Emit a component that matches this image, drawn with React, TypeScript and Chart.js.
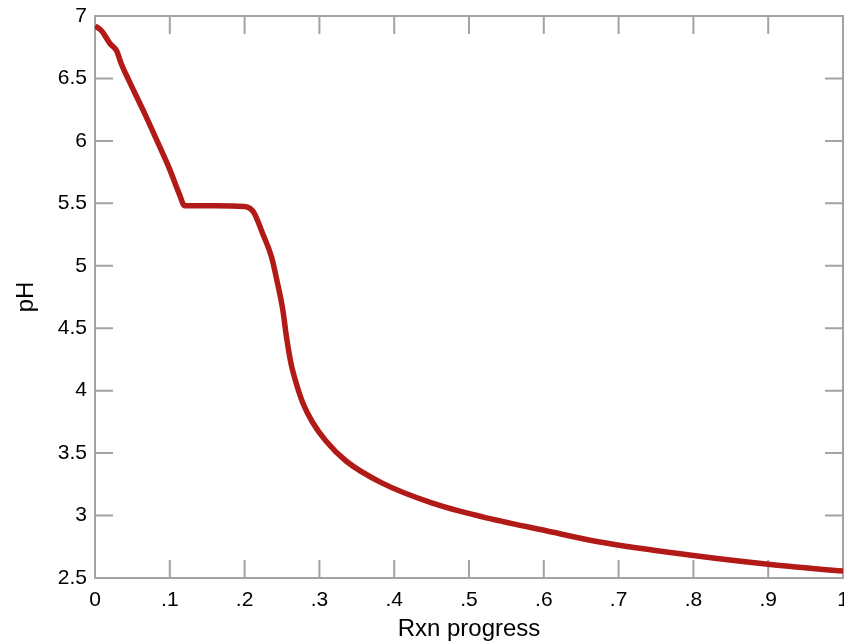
import React, { useEffect, useRef } from "react";
import { Chart, registerables } from "chart.js";

Chart.register(...registerables);

// Reaction progress (x) and pH (y)
const progress = [
  0, 0.009, 0.02, 0.029, 0.035, 0.044, 0.064, 0.083, 0.1, 0.113, 0.12,
  0.16, 0.2, 0.207, 0.213, 0.224, 0.236, 0.244, 0.251, 0.256, 0.262, 0.269,
  0.278, 0.291, 0.309, 0.336, 0.384, 0.451, 0.518, 0.602, 0.673, 0.8, 0.9, 1.0,
];
const pH = [
  6.92, 6.88, 6.78, 6.72, 6.62, 6.5, 6.25, 6.0, 5.77, 5.57, 5.48,
  5.48, 5.475, 5.46, 5.42, 5.26, 5.07, 4.86, 4.65, 4.43, 4.22, 4.06,
  3.9, 3.745, 3.595, 3.435, 3.26, 3.1, 2.99, 2.88, 2.79, 2.68, 2.61, 2.555,
];

const xTitle = "Rxn progress";
const yTitle = "pH";
const xMin = 0, xMax = 1, xStep = 0.1;
const yMin = 2.5, yMax = 7, yStep = 0.5;

const FONT = "'Liberation Sans', Arial, Helvetica, sans-serif";
const FRAME = "#a3a3a3";
const TICK_LEN = 18;

const framePlugin = {
  id: "frameTicks",
  beforeDatasetsDraw(chart: any) {
    const { ctx, chartArea: a, scales } = chart;
    const xs = scales.x, ys = scales.y;
    ctx.save();
    ctx.strokeStyle = FRAME;
    ctx.lineWidth = 2;
    ctx.beginPath();
    xs.ticks.forEach((t: any) => {
      const px = xs.getPixelForValue(t.value);
      ctx.moveTo(px, a.bottom);
      ctx.lineTo(px, a.bottom - TICK_LEN);
      ctx.moveTo(px, a.top);
      ctx.lineTo(px, a.top + TICK_LEN);
    });
    ys.ticks.forEach((t: any) => {
      const py = ys.getPixelForValue(t.value);
      ctx.moveTo(a.left, py);
      ctx.lineTo(a.left + TICK_LEN, py);
      ctx.moveTo(a.right, py);
      ctx.lineTo(a.right - TICK_LEN, py);
    });
    ctx.stroke();
    ctx.strokeRect(a.left, a.top, a.right - a.left, a.bottom - a.top);
    ctx.restore();
  },
};

export default function App() {
  const ref = useRef<HTMLCanvasElement | null>(null);

  useEffect(() => {
    if (!ref.current) return;
    const data = progress.map((x, i) => ({ x, y: pH[i] }));
    const chart = new Chart(ref.current, {
      type: "line",
      data: {
        datasets: [
          {
            data,
            borderColor: "#b21a17",
            borderWidth: 5.5,
            pointRadius: 0,
            fill: false,
            cubicInterpolationMode: "monotone",
          },
        ],
      },
      options: {
        animation: false,
        responsive: false,
        layout: { padding: { top: 16, right: 1, left: 0, bottom: 0 } },
        plugins: { legend: { display: false }, tooltip: { enabled: false } },
        scales: {
          x: {
            type: "linear",
            min: xMin,
            max: xMax,
            grid: { display: false, drawTicks: false },
            border: { display: false },
            afterFit: (s: any) => {
              s.height = 66;
              s.paddingLeft = 0;
              s.paddingRight = 0;
            },
            ticks: {
              stepSize: xStep,
              padding: 10,
              color: "#000",
              font: { family: FONT, size: 21 },
              maxRotation: 0,
              autoSkip: false,
              callback: (v: any) => {
                const n = Math.round(Number(v) * 10);
                if (n === 0) return "0";
                if (n === 10) return "1";
                return "." + n;
              },
            },
            title: {
              display: true,
              text: xTitle,
              color: "#000",
              font: { family: FONT, size: 24 },
              padding: { top: 0, bottom: 0 },
            },
          },
          y: {
            type: "linear",
            min: yMin,
            max: yMax,
            grid: { display: false, drawTicks: false },
            border: { display: false },
            afterFit: (s: any) => {
              s.width = 95;
              s.paddingTop = 0;
              s.paddingBottom = 0;
            },
            ticks: {
              stepSize: yStep,
              padding: 8,
              color: "#000",
              font: { family: FONT, size: 21 },
              autoSkip: false,
              callback: (v: any) => String(Math.round(Number(v) * 10) / 10),
            },
            title: {
              display: true,
              text: yTitle,
              color: "#000",
              font: { family: FONT, size: 24 },
              padding: { top: 12, bottom: 0 },
            },
          },
        },
      },
      plugins: [framePlugin],
    });
    return () => chart.destroy();
  }, []);

  return (
    <div style={{ position: "fixed", left: 0, top: 0, width: 844, height: 644, background: "#fff" }}>
      <canvas ref={ref} width={844} height={644} style={{ display: "block" }} />
    </div>
  );
}
